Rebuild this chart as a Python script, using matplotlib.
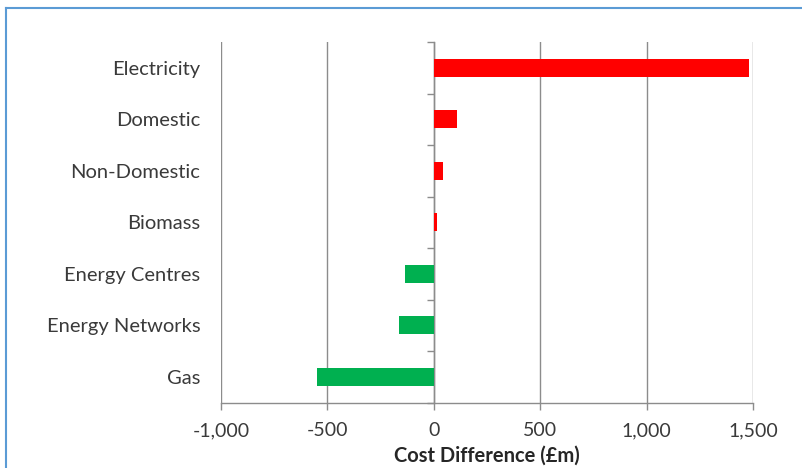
import matplotlib
matplotlib.use("Agg")
import matplotlib.pyplot as plt
from matplotlib.lines import Line2D
import numpy as np

categories = ["Electricity", "Domestic", "Non-Domestic", "Biomass",
              "Energy Centres", "Energy Networks", "Gas"]
cost_diff = [1480, 110, 45, 16, -137, -162, -549]
x_ticks = [-1000, -500, 0, 500, 1000, 1500]
x_tick_labels = ["-1,000", "-500", "0", "500", "1,000", "1,500"]
x_label = "Cost Difference (£m)"

RED = "#FF0000"
GREEN = "#00B050"
GRID = "#8C8C8C"
TEXT = "#3A3A3A"

plt.rcParams["font.family"] = ["Lato", "DejaVu Sans"]

fig = plt.figure(figsize=(8.03, 4.68), dpi=100)
ax = fig.add_axes([0.2752, 0.1395, 0.938 - 0.2752, 0.9103 - 0.1395])

n = len(categories)
ypos = np.arange(n)
colors = [RED if v >= 0 else GREEN for v in cost_diff]
ax.barh(ypos, cost_diff, height=0.35, color=colors, zorder=3)

ax.set_ylim(n - 0.5, -0.5)
ax.set_xlim(x_ticks[0], x_ticks[-1])

# vertical gridlines
ax.set_xticks(x_ticks)
ax.set_xticklabels(x_tick_labels, fontsize=14, color=TEXT)
ax.xaxis.grid(True, color=GRID, linewidth=1.0, zorder=0)
ax.tick_params(axis="x", length=5, width=1, color=GRID, pad=9)

# category labels on the left edge, without tick marks
ax.set_yticks(ypos)
ax.set_yticklabels(categories, fontsize=14.5, color=TEXT)
ax.tick_params(axis="y", length=0, pad=15)

for side in ("left", "right", "top"):
    ax.spines[side].set_visible(False)
ax.spines["bottom"].set_color(GRID)
ax.spines["bottom"].set_linewidth(1.0)

ax.set_xlabel(x_label, fontsize=14.5, fontweight="bold", color="#262626", labelpad=5)

# category axis drawn at x = 0 with boundary ticks, kept beneath the bars
ax2 = ax.twinx()
ax2.set_ylim(n - 0.5, -0.5)
ax2.spines["left"].set_position(("data", 0))
ax2.spines["left"].set_color(GRID)
ax2.spines["left"].set_linewidth(1.0)
for side in ("right", "top", "bottom"):
    ax2.spines[side].set_visible(False)
ax2.yaxis.set_ticks_position("left")
ax2.set_yticks(np.arange(n + 1) - 0.5)
ax2.set_yticklabels([])
ax2.tick_params(axis="y", length=5, width=1, color=GRID)
ax2.set_zorder(1)
ax.set_zorder(2)
ax.patch.set_visible(False)

# chart frame
frame_color = "#5B9BD5"
fig.add_artist(Line2D([6 / 803, 6 / 803], [0, 1 - 8 / 468], color=frame_color,
                      linewidth=1.5, transform=fig.transFigure))
fig.add_artist(Line2D([6 / 803, 1], [1 - 8 / 468, 1 - 8 / 468], color=frame_color,
                      linewidth=1.5, transform=fig.transFigure))

fig.savefig("out.png", dpi=100)
